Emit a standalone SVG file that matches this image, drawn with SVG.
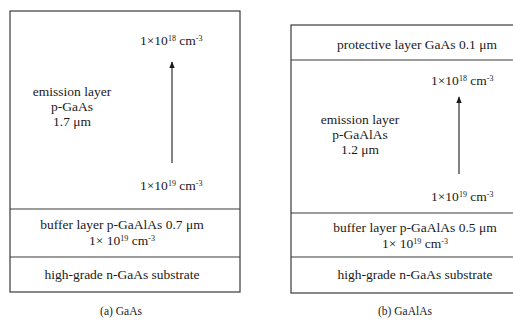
<svg xmlns="http://www.w3.org/2000/svg" width="513" height="320" viewBox="0 0 513 320">
<defs>
<style>
.box{fill:#fff;stroke:#3a3a3a;stroke-width:1.2}
.sep{stroke:#3a3a3a;stroke-width:1.2}
text{font-family:"Liberation Serif","DejaVu Serif",serif;font-size:13.5px;fill:#1a1a1a}
.c{text-anchor:middle}
.cap{font-size:11.5px}
.sup{font-size:8px}
.arr{stroke:#1a1a1a;stroke-width:1.1;fill:none}
</style>
<marker id="ah" viewBox="0 0 10 10" refX="9" refY="5" markerWidth="7" markerHeight="7" markerUnits="userSpaceOnUse" orient="auto">
<path d="M0,1 L10,5 L0,9 Z" fill="#1a1a1a"/>
</marker>
</defs>
<rect width="513" height="320" fill="#fff"/>

<g id="panel-a">
<rect class="box" x="10" y="11" width="230" height="281"/>
<g id="a-emission">
<text class="c" x="72" y="96">emission layer</text>
<text class="c" x="72" y="111">p-GaAs</text>
<text class="c" x="72" y="126">1.7 μm</text>
<text x="140" y="45">1×10<tspan class="sup" dy="-4">18</tspan><tspan dy="4"> cm</tspan><tspan class="sup" dy="-4">-3</tspan></text>
<text x="140" y="190">1×10<tspan class="sup" dy="-4">19</tspan><tspan dy="4"> cm</tspan><tspan class="sup" dy="-4">-3</tspan></text>
</g>
<g id="a-buffer">
<line class="sep" x1="10" y1="209" x2="240" y2="209"/>
<text class="c" x="122" y="229">buffer layer p-GaAlAs 0.7 μm</text>
<text class="c" x="122" y="245">1× 10<tspan class="sup" dy="-4">19</tspan><tspan dy="4"> cm</tspan><tspan class="sup" dy="-4">-3</tspan></text>
</g>
<g id="a-substrate">
<line class="sep" x1="10" y1="257" x2="240" y2="257"/>
<text class="c" x="122" y="279">high-grade n-GaAs substrate</text>
</g>
<text class="c cap" x="121" y="315">(a) GaAs</text>
</g>

<g id="panel-b">
<rect class="box" x="291" y="25" width="240" height="268"/>
<g id="b-protective">
<text class="c" x="417" y="49">protective layer GaAs 0.1 μm</text>
<line class="sep" x1="291" y1="60" x2="513" y2="60"/>
</g>
<g id="b-emission">
<text class="c" x="360" y="124">emission layer</text>
<text class="c" x="360" y="139">p-GaAlAs</text>
<text class="c" x="360" y="154">1.2 μm</text>
<text x="431" y="85">1×10<tspan class="sup" dy="-4">18</tspan><tspan dy="4"> cm</tspan><tspan class="sup" dy="-4">-3</tspan></text>
<text x="431" y="201">1×10<tspan class="sup" dy="-4">19</tspan><tspan dy="4"> cm</tspan><tspan class="sup" dy="-4">-3</tspan></text>
</g>
<g id="b-buffer">
<line class="sep" x1="291" y1="213" x2="513" y2="213"/>
<text class="c" x="415" y="232">buffer layer p-GaAlAs 0.5 μm</text>
<text class="c" x="415" y="248">1× 10<tspan class="sup" dy="-4">19</tspan><tspan dy="4"> cm</tspan><tspan class="sup" dy="-4">-3</tspan></text>
</g>
<g id="b-substrate">
<line class="sep" x1="291" y1="257" x2="513" y2="257"/>
<text class="c" x="415" y="279">high-grade n-GaAs substrate</text>
</g>
<text class="c cap" x="405" y="315">(b) GaAlAs</text>
</g>

<g id="connectors">
<line class="arr" x1="172" y1="163" x2="172" y2="62" marker-end="url(#ah)"/>
<line class="arr" x1="459" y1="174" x2="459" y2="97" marker-end="url(#ah)"/>
</g>
</svg>
